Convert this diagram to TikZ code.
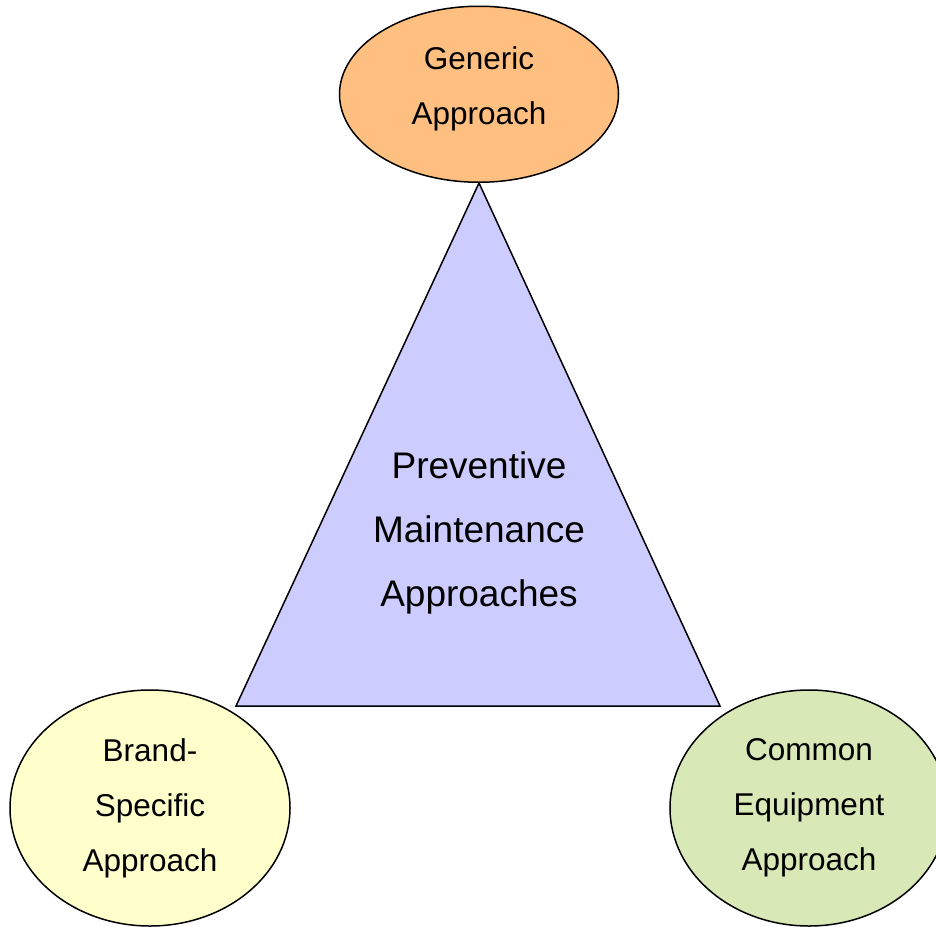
\documentclass[tikz,border=0pt]{standalone}
\usepackage{fontspec}
\setmainfont{Liberation Sans}
\usetikzlibrary{shapes.geometric,positioning}

\definecolor{genericfill}{HTML}{FFBF80}
\definecolor{brandfill}{HTML}{FFFFCC}
\definecolor{commonfill}{HTML}{D8E8B6}
\definecolor{pmfill}{HTML}{CCCCFF}

\begin{document}
\begin{tikzpicture}[%
	    x=1pt,
	    y=-1pt,
	    line width=1.5pt,
	    approach/.style={ellipse,draw=black,align=center,
	      font=\fontsize{31.5}{55}\selectfont},
	    pmtext/.style={align=center,font=\fontsize{37}{64}\selectfont},
	    tri/.style={draw=black,fill=pmfill,line join=miter}
	  ]

	  \clip (0,0) rectangle (936,926);

	  %\tikzstyle{every node}=[draw=red]

	  \coordinate (apex) at (479,183);
	  \coordinate (left) at (236,706);
	  \coordinate (right) at (720,706);

	  \draw[tri] (apex) -- (left) -- (right) -- cycle;

	  \node[pmtext] (PMA) at (479,533) {Preventive\\Maintenance\\Approaches};

	  \node[approach,fill=genericfill,minimum width=279pt,minimum height=176pt,
	    text depth=17pt,above=0pt of apex] (GEN) {Generic\\Approach};
	  \node[approach,fill=brandfill,minimum width=280pt,minimum height=236pt]
	    (BRAND) at (150,808) {Brand-\\Specific\\Approach};
	  \node[approach,fill=commonfill,minimum width=278pt,minimum height=236pt]
	    (COMMON) at (809,808) {Common\\Equipment\\Approach};

\end{tikzpicture}
\end{document}
